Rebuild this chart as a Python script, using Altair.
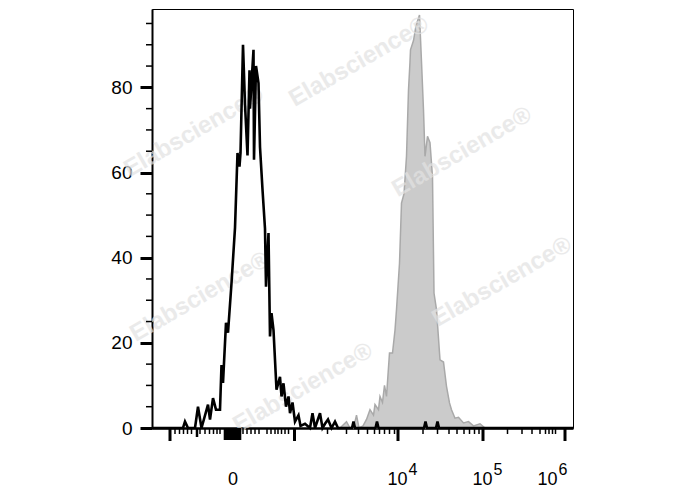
import altair as alt
import pandas as pd

# x values are in display channel units (0..842 across the plot, logicle-like axis)
black_x = [0, 62, 66, 72, 86, 92, 99, 112, 116, 122, 128, 136, 139, 142, 148, 152, 159, 166,
           171, 175, 177, 182, 186, 191, 195, 196, 203, 204, 208, 213, 216, 221, 226, 228,
           233, 236, 239, 243, 249, 256, 259, 263, 268, 273, 276, 281, 286, 293, 297, 306,
           316, 321, 326, 336, 341, 346, 352, 359, 366, 372, 400, 403, 406, 447, 450, 453,
           544, 547, 550, 568, 571, 574, 842]
black_y = [0, 0, 1.5, 0, 0, 5, 0, 5.5, 2, 7, 4.3, 4.3, 14.8, 10.6, 24.7, 22.4, 34, 47,
           64.6, 61.4, 64.6, 90, 76, 64, 84, 75, 88.8, 63, 85, 81, 66, 56, 46.8, 33.2,
           45.8, 21.5, 27, 23, 9, 12, 7.4, 10.5, 5, 7.4, 3.5, 6, 1.5, 3, 0.5, 1,
           0, 3.5, 0, 3.5, 0, 1, 2, 0, 1.5, 0, 0, 1.5, 0, 0, 1.5, 0,
           0, 1.5, 0, 0, 1.5, 0, 0]

grey_x = [376, 389, 396, 404, 409, 414, 422, 429, 436, 443, 446, 453, 456, 461, 465, 469,
          475, 481, 486, 489, 495, 499, 504, 509, 513, 516, 517, 523, 528, 535, 539, 543,
          546, 551, 556, 561, 564, 569, 576, 583, 589, 595, 599, 606, 613, 623, 633, 643,
          656, 666]
grey_y = [0, 1.5, 0, 0.5, 3, 0, 0.5, 2, 4.3, 3, 5.5, 4.3, 7.4, 6, 10, 7.4,
          17.6, 17.6, 23, 27.8, 38.7, 52.8, 55, 63.8, 79.4, 86, 88.8, 91, 94.5, 97, 86, 74.7,
          63.8, 68.5, 67, 59, 31.7, 27.8, 16, 15.5, 9.8, 5.9, 4.3, 2.3, 2.5, 1.2, 1.5, 0.5,
          1, 0]

major_ticks = [36, 285, 492, 662, 826]
medium_ticks = [90]
dense_ticks = [146, 149, 152, 155, 158, 161, 164, 167, 170, 173, 176]
minor_ticks = [46, 55, 63, 71, 79, 96, 106, 115, 123, 130, 136,
               182, 190, 198, 206, 214, 230, 238, 246, 252, 259, 266, 273,
               351, 389, 413, 431, 445, 455, 465, 475, 485,
               542, 571, 594, 610, 624, 635, 645, 654,
               711, 740, 760, 776, 787, 794, 801, 807]

y_major = [0, 20, 40, 60, 80]
y_minor = [5, 10, 15, 25, 30, 35, 45, 50, 55, 65, 70, 75, 85, 90, 95]

label_x = [162, 491, 661, 791]
label_base = ["0", "10", "10", "10"]
label_exp = ["", "4", "5", "6"]

wm_x = [414, 84, 620, 96, 700, 302]
wm_y = [86.0, 69.5, 64.8, 30.8, 34.3, 9.4]
wm_text = ["Elabscience®"] * 6

W, H = 421, 419
FONT = "Liberation Sans"

xs = alt.Scale(domain=[0, 842], nice=False, zero=False)
ys = alt.Scale(domain=[0, 98.4], nice=False, zero=False)
xaxis = alt.Axis(title=None, labels=False, ticks=False, grid=False, domainWidth=2.5,
                 domainColor="black", values=[0])
yaxis = alt.Axis(title=None, values=y_major, tickSize=12, tickWidth=3, tickColor="black",
                 labelFontSize=19, labelFont=FONT, labelColor="black", labelPadding=8,
                 domainWidth=2, domainColor="black", grid=False)

grey_df = pd.DataFrame({"x": grey_x, "y": grey_y})
black_df = pd.DataFrame({"x": black_x, "y": black_y})

area = alt.Chart(grey_df).mark_area(fill="#cbcbcb", stroke="#a9a9a9", strokeWidth=1.5).encode(
    x=alt.X("x:Q", scale=xs, axis=xaxis),
    y=alt.Y("y:Q", scale=ys, axis=yaxis),
)

wm = alt.Chart(pd.DataFrame({"x": wm_x, "y": wm_y, "t": wm_text})).mark_text(
    font=FONT, fontWeight="bold", fontSize=24, angle=330, color="#e2e2e2", opacity=0.7
).encode(
    x=alt.X("x:Q", scale=xs, axis=xaxis),
    y=alt.Y("y:Q", scale=ys, axis=yaxis),
    text="t:N",
)

line = alt.Chart(black_df).mark_line(color="black", strokeWidth=2.6).encode(
    x=alt.X("x:Q", scale=xs, axis=xaxis),
    y=alt.Y("y:Q", scale=ys, axis=yaxis),
)


def xticks(vals, length, width):
    return alt.Chart(pd.DataFrame({"x": vals})).mark_rule(color="black", strokeWidth=width).encode(
        x=alt.X("x:Q", scale=xs, axis=xaxis),
        y=alt.value(H),
        y2=alt.value(H + length),
    )


ymin = alt.Chart(pd.DataFrame({"y": y_minor})).mark_rule(color="black", strokeWidth=1.5).encode(
    y=alt.Y("y:Q", scale=ys, axis=yaxis),
    x=alt.value(-6),
    x2=alt.value(0),
)

lab_df = pd.DataFrame({"x": label_x, "b": label_base, "e": label_exp})
base_lab = alt.Chart(lab_df).mark_text(font=FONT, fontSize=18, color="black", align="center",
                                       baseline="alphabetic").encode(
    x=alt.X("x:Q", scale=xs, axis=xaxis),
    y=alt.value(476),
    text="b:N",
)
exp_lab = alt.Chart(lab_df).mark_text(font=FONT, fontSize=16, color="black", align="left",
                                      baseline="alphabetic", dx=11).encode(
    x=alt.X("x:Q", scale=xs, axis=xaxis),
    y=alt.value(466),
    text="e:N",
)

chart = alt.layer(
    area, wm, line,
    xticks(minor_ticks, 6, 1.5),
    xticks(dense_ticks, 12, 2.6),
    xticks(medium_ticks, 9, 2.5),
    xticks(major_ticks, 13, 3),
    ymin, base_lab, exp_lab,
).properties(
    width=W, height=H,
    autosize=alt.AutoSizeParams(type="none"),
    padding={"left": 144, "top": 1, "right": 107, "bottom": 62},
).configure_view(stroke="black", strokeWidth=1)

chart.save("out.html", embed_options={"renderer": "svg", "actions": False})
